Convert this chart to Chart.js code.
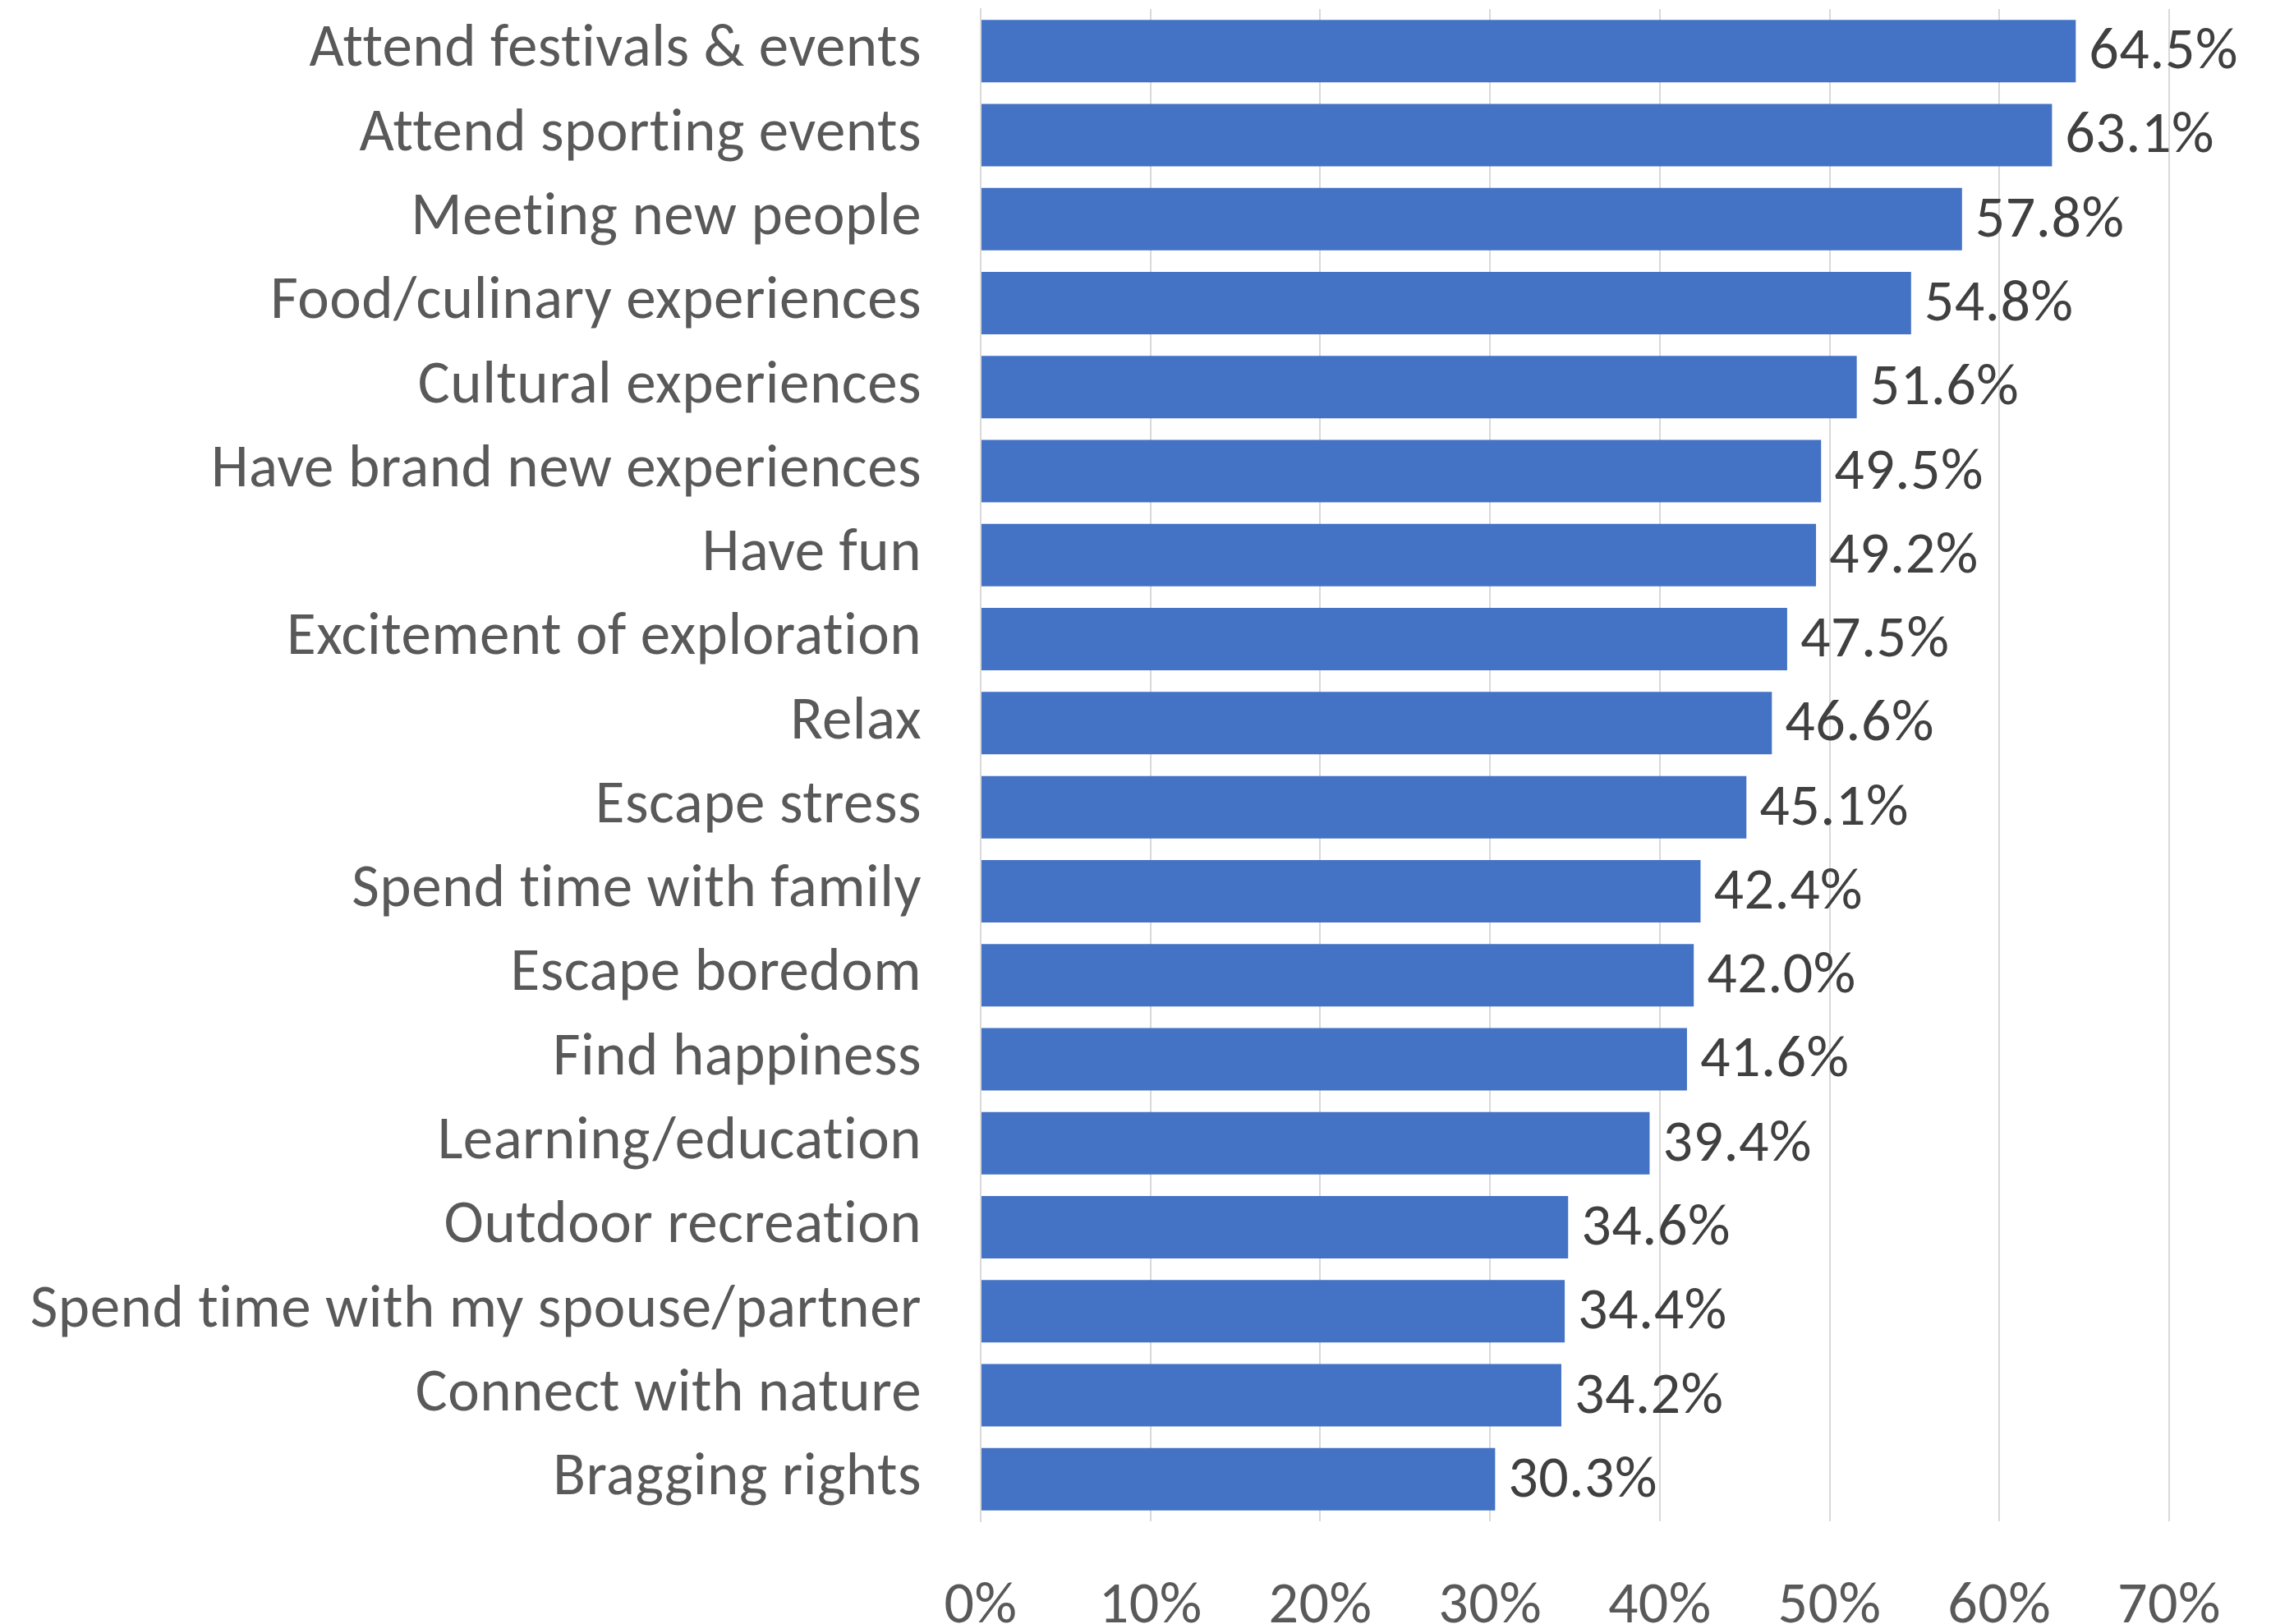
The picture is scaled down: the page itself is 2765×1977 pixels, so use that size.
<!DOCTYPE html>
<html>
<head>
<meta charset="utf-8">
<script src="https://cdn.jsdelivr.net/npm/chart.js@4/dist/chart.umd.min.js"></script>
<style>
  html, body { margin: 0; padding: 0; background: #fff; }
  #wrap { width: 2765px; height: 1977px; }
</style>
</head>
<body>
<div id="wrap"><canvas id="barChart"></canvas></div>
<script>
const categories = [
  "Attend festivals & events",
  "Attend sporting events",
  "Meeting new people",
  "Food/culinary experiences",
  "Cultural experiences",
  "Have brand new experiences",
  "Have fun",
  "Excitement of exploration",
  "Relax",
  "Escape stress",
  "Spend time with family",
  "Escape boredom",
  "Find happiness",
  "Learning/education",
  "Outdoor recreation",
  "Spend time with my spouse/partner",
  "Connect with nature",
  "Bragging rights"
];
const shares = [64.5, 63.1, 57.8, 54.8, 51.6, 49.5, 49.2, 47.5, 46.6, 45.1, 42.4, 42.0, 41.6, 39.4, 34.6, 34.4, 34.2, 30.3];
const xTicks = [0, 10, 20, 30, 40, 50, 60, 70];

const FONT = "Carlito, Lato, 'Open Sans', sans-serif";

// a little letter spacing keeps "tt"/"ti" from turning into ligatures
const noLigatures = {
  id: "noLigatures",
  beforeDraw(chart) {
    chart.ctx.letterSpacing = "0.5px";
  }
};

// value labels just past the end of each bar
const barLabels = {
  id: "barLabels",
  afterDatasetsDraw(chart) {
    const ctx = chart.ctx;
    const meta = chart.getDatasetMeta(0);
    ctx.save();
    ctx.font = "72px " + FONT;
    ctx.fillStyle = "#404040";
    ctx.textAlign = "left";
    ctx.textBaseline = "middle";
    meta.data.forEach((bar, i) => {
      ctx.fillText(shares[i].toFixed(1) + "%", bar.x + 16, bar.y + 3);
    });
    ctx.restore();
  }
};

new Chart(document.getElementById("barChart"), {
  type: "bar",
  data: {
    labels: categories,
    datasets: [{
      data: shares,
      backgroundColor: "#4472C4",
      categoryPercentage: 1,
      barPercentage: 0.743
    }]
  },
  options: {
    indexAxis: "y",
    responsive: true,
    maintainAspectRatio: false,
    animation: false,
    layout: { padding: { top: 11, right: 124, left: 0, bottom: 0 } },
    plugins: {
      legend: { display: false },
      tooltip: { enabled: false }
    },
    scales: {
      x: {
        min: 0,
        max: 70,
        afterBuildTicks: (axis) => { axis.ticks = xTicks.map(v => ({ value: v })); },
        afterFit: (axis) => {
          axis.height = 125;
          axis.paddingLeft = 0;
          axis.paddingRight = 0;
        },
        grid: { color: "#d9d9d9", lineWidth: 2, drawTicks: false },
        border: { display: false },
        ticks: {
          padding: 62,
          color: "#595959",
          font: { family: FONT, size: 72 },
          maxRotation: 0,
          callback: (v) => v + "%"
        }
      },
      y: {
        afterFit: (axis) => {
          axis.width = 1194;
          axis.paddingTop = 0;
          axis.paddingBottom = 0;
        },
        grid: { display: false, drawTicks: false },
        border: { display: true, color: "#d9d9d9", width: 2 },
        ticks: {
          padding: 72,
          color: "#595959",
          font: { family: FONT, size: 73 }
        }
      }
    }
  },
  plugins: [noLigatures, barLabels]
});
</script>
</body>
</html>
